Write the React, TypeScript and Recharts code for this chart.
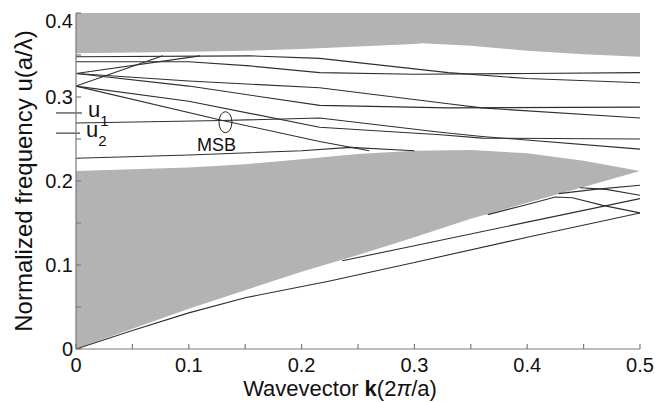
import React from 'react';
import { ComposedChart, Area, Line, XAxis, YAxis, ReferenceLine, ReferenceDot } from 'recharts';

const FONT = "'Liberation Sans', Arial, Helvetica, sans-serif";

// Tick values
const xTicks = [0, 0.05, 0.1, 0.15, 0.2, 0.25, 0.3, 0.35, 0.4, 0.45, 0.5];
const yTicks = [0, 0.05, 0.1, 0.15, 0.2, 0.25, 0.3, 0.35, 0.4];

// Upper shaded region (radiation modes above)
const upperGrayK = [0, 0.05, 0.1, 0.15, 0.2, 0.25, 0.3, 0.307, 0.35, 0.4, 0.45, 0.5];
const upperGrayEdge = [0.352, 0.353, 0.354, 0.355, 0.357, 0.36, 0.363, 0.364, 0.361, 0.355, 0.351, 0.348];

// Lower shaded region (between light line and lower band edge)
const lowerGrayK = [0, 0.05, 0.1, 0.15, 0.2, 0.25, 0.3, 0.35, 0.4, 0.45, 0.5];
const lightLine = [0, 0.024, 0.048, 0.07, 0.092, 0.112, 0.133, 0.155, 0.174, 0.193, 0.212];
const lowerGrayEdge = [0.212, 0.214, 0.216, 0.22, 0.226, 0.232, 0.236, 0.237, 0.233, 0.224, 0.212];

// Guided bands below light line
const band1 = [[0, 0], [0.05, 0.022], [0.1, 0.043], [0.15, 0.061], [0.225, 0.081], [0.3, 0.103], [0.4, 0.133], [0.5, 0.162]];
const band2 = [[0.236, 0.105], [0.3, 0.123], [0.4, 0.151], [0.5, 0.179]];
const band3 = [[0.365, 0.16], [0.4, 0.172], [0.425, 0.181], [0.44, 0.18], [0.467, 0.171], [0.5, 0.162]];
const band4 = [[0.428, 0.185], [0.46, 0.19], [0.5, 0.195]];
const band5 = [[0.447, 0.192], [0.47, 0.19], [0.5, 0.183]];

// Bands in the gap region
const bandTop = [[0, 0.348], [0.154, 0.349], [0.216, 0.346], [0.33, 0.329], [0.4, 0.322], [0.5, 0.317]];
const bandT2 = [[0, 0.342], [0.1, 0.342], [0.154, 0.337], [0.216, 0.329], [0.3, 0.327], [0.4, 0.328], [0.5, 0.329]];
const bandP = [[0, 0.313], [0.077, 0.349]];
const bandQ = [[0, 0.328], [0.11, 0.349]];
const bandT3 = [[0, 0.328], [0.1, 0.319], [0.216, 0.311], [0.33, 0.292], [0.36, 0.287], [0.5, 0.275]];
const bandT4 = [[0, 0.328], [0.1, 0.313], [0.216, 0.29], [0.33, 0.287], [0.5, 0.288]];
const bandE = [[0, 0.313], [0.1, 0.295], [0.216, 0.264], [0.323, 0.255], [0.36, 0.251], [0.5, 0.25]];
const bandF = [[0, 0.269], [0.13, 0.272], [0.216, 0.275], [0.323, 0.258], [0.36, 0.253], [0.5, 0.238]];
const bandS = [[0, 0.313], [0.13, 0.272], [0.216, 0.247], [0.26, 0.236]];
const bandB = [[0, 0.227], [0.1, 0.231], [0.2, 0.236], [0.243, 0.24], [0.3, 0.236]];

const allBands = [band1, band2, band3, band4, band5, bandTop, bandT2, bandP, bandQ, bandT3, bandT4, bandE, bandF, bandS, bandB];

// Annotations
const u1Level = 0.281;
const u2Level = 0.257;
const markerStartK = -0.0177;
const u1EndK = 0.0053;
const u2EndK = 0.0035;
const msbPoint = { k: 0.1325, u: 0.27 };
const msbLabelPoint = { k: 0.1246, u: 0.2435 };

const upperGrayData = upperGrayK.map((k, i) => ({ k, range: [upperGrayEdge[i], 0.4] }));
const lowerGrayData = lowerGrayK.map((k, i) => ({ k, range: [lightLine[i], lowerGrayEdge[i]] }));
const toPts = (arr: number[][]) => arr.map(([k, u]) => ({ k, u }));

const isTenth = (v: number) => Math.abs(v * 10 - Math.round(v * 10)) < 1e-6;
const fmt = (v: number) => (v === 0 ? '0' : String(Math.round(v * 10) / 10));

const XTick = (props: any) => {
  const { x, y, payload } = props;
  if (!isTenth(payload.value)) return <g />;
  return (
    <text x={x} y={y} dy="0.71em" textAnchor="middle" fontSize={20} fontFamily={FONT} fill="#111">
      {fmt(payload.value)}
    </text>
  );
};

const YTick = (props: any) => {
  const { x, y, payload } = props;
  if (!isTenth(payload.value)) return <g />;
  const shift = payload.value >= 0.399 ? 8 : 0;
  return (
    <text x={x} y={y + shift} dy="0.355em" textAnchor="end" fontSize={20} fontFamily={FONT} fill="#111">
      {fmt(payload.value)}
    </text>
  );
};

const YTitle = (props: any) => {
  const vb = props.viewBox || { x: 0, y: 13, width: 76, height: 336 };
  const cx = vb.x + 23;
  const cy = vb.y + vb.height / 2;
  return (
    <text x={cx} y={cy} transform={`rotate(-90 ${cx} ${cy})`} textAnchor="middle" dominantBaseline="central" fontSize={24} fontFamily={FONT} fill="#111">
      Normalized frequency u(a/λ)
    </text>
  );
};

const XTitle = (props: any) => {
  const vb = props.viewBox || { x: 76, y: 349, width: 564, height: 53 };
  const cx = vb.x + vb.width / 2 - 18;
  const cy = vb.y + 47;
  return (
    <text x={cx} y={cy} textAnchor="middle" fontSize={22} fontFamily={FONT} fill="#111">
      <tspan>Wavevector </tspan>
      <tspan fontWeight="bold">k</tspan>
      <tspan>(2</tspan>
      <tspan fontStyle="italic">π</tspan>
      <tspan>/a)</tspan>
    </text>
  );
};

const makeULabel = (sub: string) => (props: any) => {
  const { cx, cy } = props;
  return (
    <text x={cx + 6} y={cy + 4} fontSize={22} fontFamily={FONT} fill="#111">
      <tspan>u</tspan>
      <tspan fontSize={15} dy={9}>{sub}</tspan>
    </text>
  );
};

const Ellipse = (props: any) => {
  const { cx, cy } = props;
  return <ellipse cx={cx} cy={cy} rx={6.5} ry={10.5} fill="none" stroke="#222" strokeWidth={1} />;
};

const MsbText = (props: any) => {
  const { cx, cy } = props;
  return (
    <text x={cx} y={cy} dy="0.36em" textAnchor="middle" fontSize={18} fontFamily={FONT} fill="#111">
      MSB
    </text>
  );
};

const FRAME = '#7a7a7a';
const GRAY = '#b3b3b3';
const LINE = '#2e2e2e';

export default function App() {
  return (
    <div style={{ position: 'absolute', left: 0, top: 0, width: 655, height: 402, background: '#fff' }}>
      <ComposedChart width={655} height={402} margin={{ top: 13, right: 15, bottom: 0, left: 0 }}>
        <XAxis
          dataKey="k"
          type="number"
          domain={[0, 0.5]}
          ticks={xTicks}
          height={53}
          tickSize={-5}
          tickMargin={14}
          tick={<XTick />}
          axisLine={{ stroke: FRAME, strokeWidth: 1.2 }}
          tickLine={{ stroke: FRAME, strokeWidth: 1.2 }}
          allowDataOverflow
          label={<XTitle />}
        />
        <XAxis
          xAxisId="top"
          orientation="top"
          dataKey="k"
          type="number"
          domain={[0, 0.5]}
          height={0}
          tick={false}
          tickLine={false}
          axisLine={{ stroke: FRAME, strokeWidth: 1.2 }}
          allowDataOverflow
        />
        <YAxis
          type="number"
          domain={[0, 0.4]}
          ticks={yTicks}
          width={76}
          tickSize={-5}
          tickMargin={8}
          tick={<YTick />}
          axisLine={{ stroke: FRAME, strokeWidth: 1.2 }}
          tickLine={{ stroke: FRAME, strokeWidth: 1.2 }}
          allowDataOverflow
          label={<YTitle />}
        />
        <YAxis
          yAxisId="right"
          orientation="right"
          type="number"
          domain={[0, 0.4]}
          ticks={yTicks}
          width={0}
          tickSize={-5}
          tick={false}
          axisLine={{ stroke: FRAME, strokeWidth: 1.2 }}
          tickLine={{ stroke: FRAME, strokeWidth: 1.2 }}
          allowDataOverflow
        />
        <Area data={upperGrayData} dataKey="range" type="linear" stroke="none" fill={GRAY} fillOpacity={1} isAnimationActive={false} dot={false} activeDot={false} />
        <Area data={lowerGrayData} dataKey="range" type="linear" stroke="none" fill={GRAY} fillOpacity={1} isAnimationActive={false} dot={false} activeDot={false} />
        {allBands.map((b, i) => (
          <Line
            key={i}
            data={toPts(b)}
            dataKey="u"
            type="linear"
            stroke={LINE}
            strokeWidth={1.1}
            dot={false}
            activeDot={false}
            isAnimationActive={false}
          />
        ))}
        <ReferenceLine
          segment={[{ x: markerStartK, y: u1Level }, { x: u1EndK, y: u1Level }]}
          stroke={LINE}
          strokeWidth={1.1}
          ifOverflow="visible"
        />
        <ReferenceLine
          segment={[{ x: markerStartK, y: u2Level }, { x: u2EndK, y: u2Level }]}
          stroke={LINE}
          strokeWidth={1.1}
          ifOverflow="visible"
        />
        <ReferenceDot x={u1EndK} y={u1Level} r={0} shape={makeULabel('1')} ifOverflow="visible" />
        <ReferenceDot x={u2EndK} y={u2Level} r={0} shape={makeULabel('2')} ifOverflow="visible" />
        <ReferenceDot x={msbPoint.k} y={msbPoint.u} r={0} shape={<Ellipse />} ifOverflow="visible" />
        <ReferenceDot x={msbLabelPoint.k} y={msbLabelPoint.u} r={0} shape={<MsbText />} ifOverflow="visible" />
      </ComposedChart>
    </div>
  );
}
